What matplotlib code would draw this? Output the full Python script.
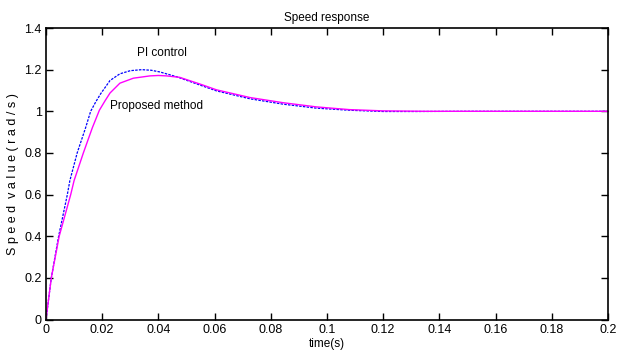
import matplotlib.pyplot as plt
from matplotlib.ticker import FuncFormatter

plt.rcParams['font.family'] = ['Liberation Sans', 'DejaVu Sans']

# PI control response
t_pi = [0, 0.0019, 0.0045, 0.0076, 0.0085, 0.0111, 0.0141, 0.0159, 0.0177, 0.0195,
        0.0228, 0.0263, 0.03, 0.0341, 0.0375, 0.0405, 0.0465, 0.055, 0.0607, 0.0726,
        0.0845, 0.0963, 0.108, 0.12, 0.132, 0.15, 0.2]
y_pi = [0, 0.2, 0.4, 0.6, 0.667, 0.8, 0.921, 1.0, 1.045, 1.085,
        1.148, 1.18, 1.195, 1.2, 1.197, 1.189, 1.166, 1.125, 1.098, 1.06,
        1.034, 1.015, 1.005, 0.999, 0.999, 1.0, 1.0]

# proposed method response
t_prop = [0, 0.0019, 0.0047, 0.0088, 0.0100, 0.0133, 0.0165, 0.0190, 0.021, 0.0228,
          0.0263, 0.0311, 0.037, 0.040, 0.0429, 0.0476, 0.055, 0.0607, 0.0726, 0.0845,
          0.0963, 0.108, 0.12, 0.135, 0.15, 0.2]
y_prop = [0, 0.2, 0.4, 0.6, 0.667, 0.8, 0.921, 1.005, 1.05, 1.088,
          1.135, 1.159, 1.170, 1.172, 1.170, 1.163, 1.130, 1.103, 1.066, 1.041,
          1.021, 1.008, 1.002, 1.0, 1.0, 1.0]

x_ticks = [0, 0.02, 0.04, 0.06, 0.08, 0.1, 0.12, 0.14, 0.16, 0.18, 0.2]
y_ticks = [0, 0.2, 0.4, 0.6, 0.8, 1, 1.2, 1.4]

fig = plt.figure(figsize=(6.18, 3.6), dpi=100)
ax = fig.add_axes([0.0744, 0.1125, 0.9094, 0.8097])

ax.plot(t_pi, y_pi, color='blue', linestyle=(0, (2, 1)), linewidth=0.9)
ax.plot(t_prop, y_prop, color='magenta', linewidth=1.0)

ax.text(0.0413, 1.278, 'PI control', fontsize=8.5, ha='center', va='center')
ax.text(0.0395, 1.024, 'Proposed method', fontsize=8.5, ha='center', va='center')

ax.set_xlim(0, 0.2)
ax.set_ylim(0, 1.4)
ax.set_xticks(x_ticks)
ax.set_yticks(y_ticks)
fmt = FuncFormatter(lambda v, p: '%g' % round(v, 4))
ax.xaxis.set_major_formatter(fmt)
ax.yaxis.set_major_formatter(fmt)
ax.tick_params(direction='in', top=True, right=True, length=5, width=1,
               labelsize=9, pad=3)
for s in ax.spines.values():
    s.set_linewidth(1.2)

ax.set_title('Speed response', fontsize=8.5, pad=5)
ax.set_xlabel('time(s)', fontsize=8.5, labelpad=2)
ax.set_ylabel('S p e e d  v a l u e ( r a d / s )', fontsize=9, labelpad=4)

fig.savefig('out.png', dpi=100)
